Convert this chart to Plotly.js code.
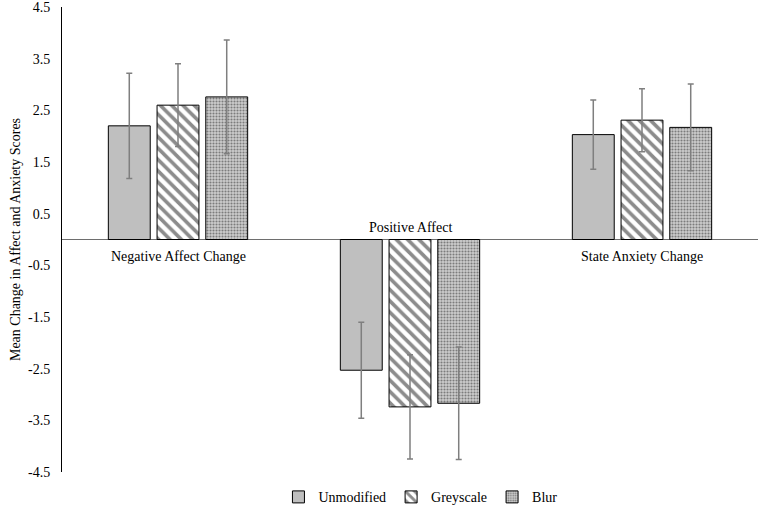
<!DOCTYPE html>
<html>
<head>
<meta charset="utf-8">
<script src="https://cdn.plot.ly/plotly-3.0.1.min.js"></script>
<style>html,body{margin:0;padding:0;background:#fff;}#chart{width:762px;height:505px;}</style>
</head>
<body>
<div id="chart"></div>
<script>
var categories = ["Negative Affect Change", "Positive Affect", "State Anxiety Change"];
var seriesNames = ["Unmodified", "Greyscale", "Blur"];
var unmodified = [2.20, -2.53, 2.03];
var greyscale = [2.60, -3.24, 2.31];
var blur = [2.76, -3.17, 2.17];
var unmodifiedErr = [1.02, 0.93, 0.67];
var greyscaleErr = [0.80, 1.01, 0.61];
var blurErr = [1.10, 1.09, 0.84];
var yTicks = [-4.5, -3.5, -2.5, -1.5, -0.5, 0.5, 1.5, 2.5, 3.5, 4.5];

var serif = "Liberation Serif";
var errStyle = function(arr){ return {type:'data', array:arr, visible:true, color:'#7f7f7f', thickness:1.5, width:3}; };

var traces = [
  {type:'bar', name:seriesNames[0], x:categories, y:unmodified, error_y:errStyle(unmodifiedErr),
   marker:{color:'#bfbfbf', line:{color:'#000', width:1}}},
  {type:'bar', name:seriesNames[1], x:categories, y:greyscale, error_y:errStyle(greyscaleErr),
   marker:{color:'#ffffff', line:{color:'#000', width:1},
     pattern:{shape:'\\', fgcolor:'#8c8c8c', bgcolor:'#ffffff', size:8, solidity:0.45}}},
  {type:'bar', name:seriesNames[2], x:categories, y:blur, error_y:errStyle(blurErr),
   marker:{color:'#c4c4c4', line:{color:'#000', width:1},
     pattern:{shape:'.', fgcolor:'#7c7c7c', bgcolor:'#cdcdcd', size:3, solidity:0.4}}}
];

var annotations = categories.map(function(c, i){
  var neg = unmodified[i] < 0;
  return {x:c, y:0, xref:'x', yref:'y', text:c, showarrow:false,
    yanchor: neg ? 'bottom' : 'top', yshift: neg ? 3 : -7,
    font:{family:serif, size:14, color:'#000'}};
});

var layout = {
  width:762, height:505,
  margin:{l:62, r:4, t:7, b:33, autoexpand:false},
  paper_bgcolor:'#fff', plot_bgcolor:'#fff',
  barmode:'group', bargap:0.37, bargroupgap:0.14,
  font:{family:serif, size:14, color:'#000'},
  xaxis:{type:'category', showticklabels:false, showgrid:false, showline:false, zeroline:false, ticks:''},
  yaxis:{range:[-4.5,4.5], tickvals:yTicks, ticktext:yTicks.map(function(v){return v.toFixed(1);}),
    ticklabeloverflow:'allow', ticklabelstandoff:8,
    showgrid:false, showline:true, linecolor:'#000', linewidth:1, ticks:'',
    zeroline:true, zerolinecolor:'#6e6e6e', zerolinewidth:1.5,
    tickfont:{family:serif, size:14, color:'#000'},
    title:{text:'Mean Change in Affect and Anxiety Scores', font:{family:serif, size:14, color:'#000'}, standoff:4}},
  legend:{orientation:'h', x:0.515, xanchor:'center', y:-0.02, yanchor:'top',
    font:{family:serif, size:14, color:'#000'}, itemwidth:30, traceorder:'normal'},
  showlegend:true,
  annotations:annotations
};

Plotly.newPlot('chart', traces, layout, {displayModeBar:false, staticPlot:true});
</script>
</body>
</html>
